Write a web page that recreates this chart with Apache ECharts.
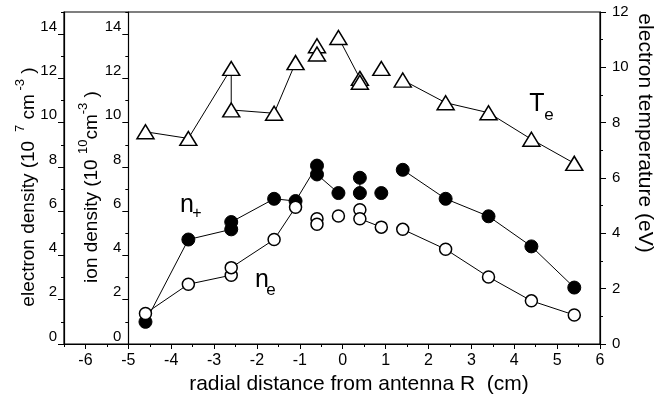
<!DOCTYPE html>
<html>
<head>
<meta charset="utf-8">
<script src="https://cdn.jsdelivr.net/npm/echarts@6/dist/echarts.min.js"></script>
<style>html,body{margin:0;padding:0;background:#fff}#c{width:662px;height:401px}</style>
</head>
<body>
<div id="c"></div>
<script>
// ---- data ----
const teX  = [-4.6, -3.6, -2.6, -2.6, -1.6, -1.1, -0.6, -0.6, -0.1, 0.4, 0.4, 0.9, 1.4, 2.4, 3.4, 4.4, 5.4];
const teY  = [7.67, 7.43, 9.96, 8.46, 8.34, 10.17, 10.78, 10.48, 11.08, 9.6, 9.46, 9.96, 9.54, 8.72, 8.36, 7.40, 6.53];
const teRun = [0, 0, 0, 0, 0, 0, 1, 1, 2, 2, 2, 3, 4, 4, 4, 4, 4];

const npX  = [-4.6, -3.6, -2.6, -2.6, -1.6, -1.1, -0.6, -0.6, -0.1, 0.4, 0.4, 0.9, 1.4, 2.4, 3.4, 4.4, 5.4];
const npY  = [1.00, 4.72, 5.18, 5.51, 6.56, 6.46, 8.06, 7.66, 6.82, 7.51, 6.82, 6.82, 7.87, 6.56, 5.77, 4.41, 2.55];
const npRun = [0, 0, 0, 0, 0, 0, 0, 0, 0, 1, 1, 2, 3, 3, 3, 3, 3];

const neX  = [-4.6, -3.6, -2.6, -2.6, -1.6, -1.1, -0.6, -0.6, -0.1, 0.4, 0.4, 0.9, 1.4, 2.4, 3.4, 4.4, 5.4];
const neY  = [1.38, 2.70, 3.11, 3.45, 4.72, 6.18, 5.66, 5.41, 5.78, 6.07, 5.66, 5.28, 5.18, 4.28, 3.03, 1.95, 1.31];
const neRun = [0, 0, 0, 0, 0, 0, 1, 1, 2, 3, 3, 3, 4, 4, 4, 4, 4];

const xTicks = [-6, -5, -4, -3, -2, -1, 0, 1, 2, 3, 4, 5, 6];
const xMinorTicks = [-6.5, -5.5, -4.5, -3.5, -2.5, -1.5, -0.5, 0.5, 1.5, 2.5, 3.5, 4.5, 5.5];
const densityTicks = [0, 2, 4, 6, 8, 10, 12, 14];
const densityMinorTicks = [1, 3, 5, 7, 9, 11, 13, 15];
const teTicks = [0, 2, 4, 6, 8, 10, 12];
const teMinorTicks = [1, 3, 5, 7, 9, 11];

const xRange = [-6.5, 6];
const densityRange = [0, 15];
const teRange = [0, 12];
// ---------------------------------------

const FONT = '"Liberation Sans", Arial, sans-serif';
const chart = echarts.init(document.getElementById('c'), null, {renderer: 'canvas'});

function runs(xs, ys, rs) {
  const groups = {};
  xs.forEach((x, i) => { (groups[rs[i]] = groups[rs[i]] || []).push([x, ys[i]]); });
  return Object.keys(groups).map(k => groups[k]);
}

const gridLeft = 64, gridRight = 62, gridTop = 12, gridBottom = 57;
const plotW = 662 - gridLeft - gridRight;
const innerLeft = gridLeft + plotW * (-5 - xRange[0]) / (xRange[1] - xRange[0]);

const series = [];
runs(teX, teY, teRun).forEach(d => series.push({
  type: 'line', xAxisIndex: 0, yAxisIndex: 2, data: d,
  symbol: 'triangle', symbolSize: [17, 14], showSymbol: true,
  lineStyle: {color: '#000', width: 1},
  itemStyle: {color: '#fff', borderColor: '#000', borderWidth: 1.5},
  animation: false, z: 3
}));
runs(npX, npY, npRun).forEach(d => series.push({
  type: 'line', xAxisIndex: 0, yAxisIndex: 0, data: d,
  symbol: 'circle', symbolSize: 13,
  lineStyle: {color: '#000', width: 1},
  itemStyle: {color: '#000', borderColor: '#000', borderWidth: 1},
  animation: false, z: 3
}));
runs(neX, neY, neRun).forEach(d => series.push({
  type: 'line', xAxisIndex: 0, yAxisIndex: 0, data: d,
  symbol: 'circle', symbolSize: 12,
  lineStyle: {color: '#000', width: 1},
  itemStyle: {color: '#fff', borderColor: '#000', borderWidth: 1.5},
  animation: false, z: 4
}));

const axLine = {show: true, onZero: false, lineStyle: {color: '#000', width: 1.2}};
const noLine = {show: false, onZero: false};
const lbl = (vals, extra) => Object.assign({show: true, customValues: vals, color: '#000', fontSize: 15, fontFamily: FONT}, extra || {});

const titleRich = {
  a: {fontSize: 19, fontFamily: FONT, fill: '#000', lineHeight: 24, verticalAlign: 'bottom'},
  s: {fontSize: 13, fontFamily: FONT, fill: '#000', lineHeight: 24, verticalAlign: 'top', padding: [0, 0, 10, 0]}
};

chart.setOption({
  backgroundColor: '#fff',
  animation: false,
  grid: [
    {left: gridLeft, right: gridRight, top: gridTop, bottom: gridBottom, show: true, borderColor: '#000', borderWidth: 1.2, backgroundColor: 'transparent'},
    {left: innerLeft, right: gridRight, top: gridTop, bottom: gridBottom, show: false}
  ],
  xAxis: [
    {gridIndex: 0, type: 'value', min: xRange[0], max: xRange[1], position: 'bottom',
     axisLine: axLine, splitLine: {show: false},
     axisTick: {show: true, customValues: xTicks, length: 5, lineStyle: {color: '#000'}},
     axisLabel: lbl(xTicks, {margin: 9, fontSize: 16})},
    {gridIndex: 0, type: 'value', min: xRange[0], max: xRange[1], position: 'bottom',
     axisLine: noLine, splitLine: {show: false}, axisLabel: {show: false},
     axisTick: {show: true, customValues: xMinorTicks, length: 3, lineStyle: {color: '#000'}}},
    {gridIndex: 1, type: 'value', min: -5, max: xRange[1], show: false, axisLine: noLine}
  ],
  yAxis: [
    {gridIndex: 0, type: 'value', min: densityRange[0], max: densityRange[1], position: 'left',
     axisLine: axLine, splitLine: {show: false},
     axisTick: {show: true, customValues: densityTicks, length: 6, lineStyle: {color: '#000'}},
     axisLabel: lbl(densityTicks, {margin: 7, verticalAlign: 'bottom'})},
    {gridIndex: 0, type: 'value', min: densityRange[0], max: densityRange[1], position: 'left',
     axisLine: noLine, splitLine: {show: false}, axisLabel: {show: false},
     axisTick: {show: true, customValues: densityMinorTicks, length: 3, lineStyle: {color: '#000'}}},
    {gridIndex: 0, type: 'value', min: teRange[0], max: teRange[1], position: 'right',
     axisLine: axLine, splitLine: {show: false},
     axisTick: {show: true, customValues: teTicks, length: 6, lineStyle: {color: '#000'}},
     axisLabel: lbl(teTicks, {margin: 12, verticalAlign: 'middle'})},
    {gridIndex: 0, type: 'value', min: teRange[0], max: teRange[1], position: 'right',
     axisLine: noLine, splitLine: {show: false}, axisLabel: {show: false},
     axisTick: {show: true, customValues: teMinorTicks, length: 3, lineStyle: {color: '#000'}}},
    {gridIndex: 1, type: 'value', min: densityRange[0], max: densityRange[1], position: 'left',
     axisLine: axLine, splitLine: {show: false},
     axisTick: {show: true, customValues: densityTicks, length: 6, lineStyle: {color: '#000'}},
     axisLabel: lbl(densityTicks, {margin: 7, verticalAlign: 'bottom'})},
    {gridIndex: 1, type: 'value', min: densityRange[0], max: densityRange[1], position: 'left',
     axisLine: noLine, splitLine: {show: false}, axisLabel: {show: false},
     axisTick: {show: true, customValues: densityMinorTicks, length: 3, lineStyle: {color: '#000'}}}
  ],
  series: series,
  graphic: [
    {type: 'text', x: 26, y: 187, rotation: Math.PI / 2,
     style: {text: '{a|electron density (10 }{s| 7}{a| cm}{s| -3}{a| )}', align: 'center', verticalAlign: 'middle', rich: titleRich}},
    {type: 'text', x: 89, y: 187, rotation: Math.PI / 2,
     style: {text: '{a|ion density (10 }{s|10}{a|cm}{s|-3}{a| )}', align: 'center', verticalAlign: 'middle', rich: titleRich}},
    {type: 'text', x: 645, y: 133, rotation: -Math.PI / 2,
     style: {text: 'electron temperature (eV)', align: 'center', verticalAlign: 'middle', font: '21px ' + FONT, fill: '#000'}},
    {type: 'text', x: 359, y: 384,
     style: {text: 'radial distance from antenna R  (cm)', align: 'center', verticalAlign: 'middle', font: '21px ' + FONT, fill: '#000'}},
    {type: 'text', x: 187, y: 205, style: {text: 'n', align: 'center', verticalAlign: 'middle', font: '25px ' + FONT, fill: '#000'}},
    {type: 'text', x: 197, y: 214, style: {text: '+', align: 'center', verticalAlign: 'middle', font: '16px ' + FONT, fill: '#000'}},
    {type: 'text', x: 262, y: 280, style: {text: 'n', align: 'center', verticalAlign: 'middle', font: '25px ' + FONT, fill: '#000'}},
    {type: 'text', x: 271, y: 290, style: {text: 'e', align: 'center', verticalAlign: 'middle', font: '17px ' + FONT, fill: '#000'}},
    {type: 'text', x: 537, y: 104, style: {text: 'T', align: 'center', verticalAlign: 'middle', font: '25px ' + FONT, fill: '#000'}},
    {type: 'text', x: 549, y: 115, style: {text: 'e', align: 'center', verticalAlign: 'middle', font: '17px ' + FONT, fill: '#000'}}
  ]
});
</script>
</body>
</html>
